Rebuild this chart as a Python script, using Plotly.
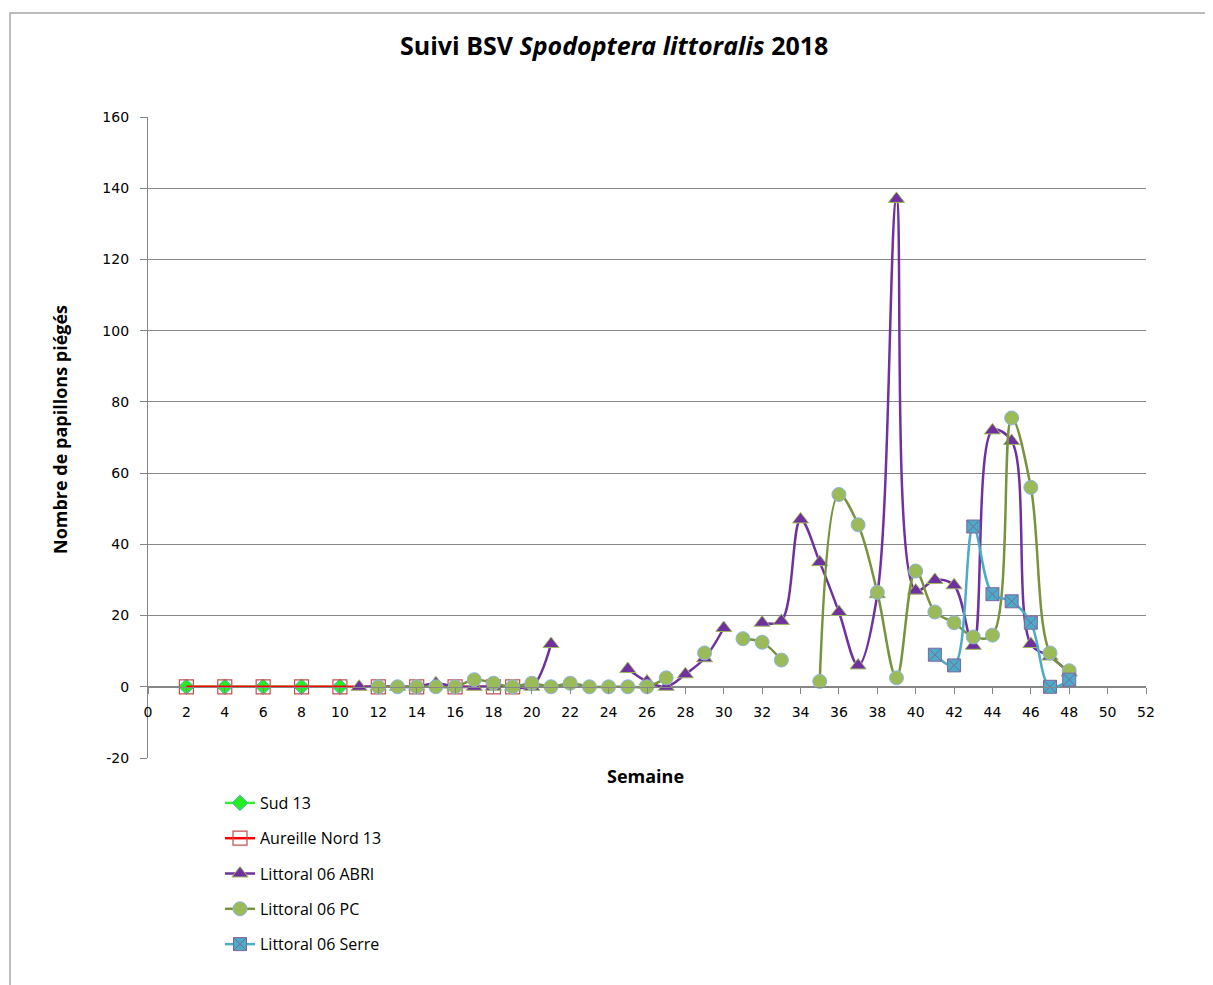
import plotly.graph_objects as go

# ---------------- data ----------------
weeks_sud = [2, 4, 6, 8, 10]
sud_13 = [0, 0, 0, 0, 0]

weeks_aureille = [2, 4, 6, 8, 10, 12, 14, 16, 18, 19]
aureille_nord_13 = [0, 0, 0, 0, 0, 0, 0, 0, 0, 0]

weeks_abri = list(range(11, 49))
littoral_abri = [0, 0, 0, 0, 1, 0, 0, 0, 0, 0, 12,          # 11-21
                 None, None, None,                           # 22-24
                 5, 1.5, 0, 3.5, 8, 16.5, None, 18, 18.5,    # 25-33
                 47, 35, 21, 6, 26, 137, 27, 30, 28.5,       # 34-42
                 11.5, 72, 69, 12, 8.5, 4]                   # 43-48

weeks_pc = list(range(12, 49))
littoral_pc = [0, 0, 0, 0, 0, 2, 1, 0, 1, 0, 1, 0, 0, 0, 0, 2.5,   # 12-27
               None, 9.5, None, 13.5, 12.5, 7.5, None,             # 28-34
               1.5, 54, 45.5, 26.5, 2.5, 32.5, 21, 18, 14,         # 35-43
               14.5, 75.5, 56, 9.5, 4.5]                           # 44-48

weeks_serre = [41, 42, 43, 44, 45, 46, 47, 48]
littoral_serre = [9, 6, 45, 26, 24, 18, 0, 2]

x_ticks = list(range(0, 53, 2))
y_ticks = list(range(-20, 161, 20))

# ---------------- figure ----------------
OFF = 8                      # page body margin
W, H = 1213 - OFF, 985 - OFF
L, R, T, B = 148, 1146, 117, 758   # plot area in screen pixels


def px(sx):
    return (sx - L) / (R - L)


def py(sy):
    return (B - sy) / (B - T)


fig = go.Figure()

fig.add_trace(go.Scatter(
    x=weeks_sud, y=sud_13, name="Sud 13", mode="lines+markers",
    line=dict(color="#33EE33", width=2.5, shape="spline", smoothing=1.0),
    marker=dict(symbol="diamond", size=12, color="#22EE22",
                line=dict(color="#5FA8D0", width=1)),
    legendgroup="a"))
fig.add_trace(go.Scatter(
    x=weeks_aureille, y=aureille_nord_13, name="Aureille Nord 13", mode="lines+markers",
    line=dict(color="#FF0000", width=2.5, shape="spline", smoothing=1.0),
    marker=dict(symbol="square-open", size=14, color="#C0504D",
                line=dict(color="#C0504D", width=1.2)),
    legendgroup="b"))
fig.add_trace(go.Scatter(
    x=weeks_abri, y=littoral_abri, name="Littoral 06 ABRI", mode="lines+markers",
    line=dict(color="#7030A0", width=2.5, shape="spline", smoothing=1.0),
    marker=dict(symbol="triangle-up", size=14, color="#7030A0",
                line=dict(color="#9BBB59", width=1)),
    connectgaps=False, legendgroup="c"))
fig.add_trace(go.Scatter(
    x=weeks_pc, y=littoral_pc, name="Littoral 06 PC", mode="lines+markers",
    line=dict(color="#77933C", width=2.5, shape="spline", smoothing=1.0),
    marker=dict(symbol="circle", size=14, color="#9BBB59",
                line=dict(color="#8EB4E3", width=1)),
    connectgaps=False, legendgroup="d"))
fig.add_trace(go.Scatter(
    x=weeks_serre, y=littoral_serre, name="Littoral 06 Serre", mode="lines+markers",
    line=dict(color="#4BACC6", width=2.5, shape="spline", smoothing=1.0),
    marker=dict(symbol="square-x", size=13, color="#4BACC6",
                line=dict(color="#8064A2", width=1)),
    legendgroup="e"))

grid = "#878787"
tickfont = dict(family="DejaVu Sans", size=14, color="#000000")
fig.update_layout(
    width=W, height=H,
    margin=dict(l=L - OFF, r=W - (R - OFF), t=T - OFF, b=H - (B - OFF), pad=0),
    paper_bgcolor="white", plot_bgcolor="white",
    showlegend=True,
    legend=dict(x=px(220), y=py(786),
                xanchor="left", yanchor="top",
                font=dict(family="Open Sans", size=16, color="#000000"),
                tracegroupgap=11.5, bgcolor="rgba(0,0,0,0)"),
    xaxis=dict(range=[0, 52], tickvals=x_ticks, ticktext=[str(v) for v in x_ticks],
               showgrid=False, zeroline=False, showline=True, linecolor=grid, linewidth=1.2,
               ticks="outside", ticklen=6, tickcolor=grid,
               anchor="free", position=20 / 180, ticklabelstandoff=6,
               tickfont=tickfont),
    yaxis=dict(range=[-20, 160], tickvals=y_ticks, ticktext=[str(v) for v in y_ticks],
               showgrid=True, gridcolor=grid, gridwidth=1.2, zeroline=False,
               showline=True, linecolor=grid, linewidth=1.2,
               ticks="outside", ticklen=7, tickcolor=grid, ticklabelstandoff=8,
               tickfont=tickfont),
    annotations=[
        dict(text="<b>Suivi BSV <i>Spodoptera littoralis</i> 2018</b>",
             x=px(614), y=py(45), xref="paper", yref="paper",
             xanchor="center", yanchor="middle", showarrow=False,
             font=dict(family="Open Sans", size=25, color="#000000")),
        dict(text="<b>Nombre de papillons piégés</b>",
             x=px(60), y=py(430), xref="paper", yref="paper",
             xanchor="center", yanchor="middle", showarrow=False, textangle=-90,
             font=dict(family="Open Sans", size=18, color="#000000")),
        dict(text="<b>Semaine</b>",
             x=px(645), y=py(776), xref="paper", yref="paper",
             xanchor="center", yanchor="middle", showarrow=False,
             font=dict(family="Open Sans", size=18, color="#000000")),
    ],
    shapes=[
        dict(type="rect", xref="paper", yref="paper",
             x0=px(10), x1=px(1240), y0=py(1010), y1=py(13),
             line=dict(color="#A6A6A6", width=1.5), fillcolor="rgba(0,0,0,0)", layer="below"),
    ],
)

fig.write_html("out.html")
